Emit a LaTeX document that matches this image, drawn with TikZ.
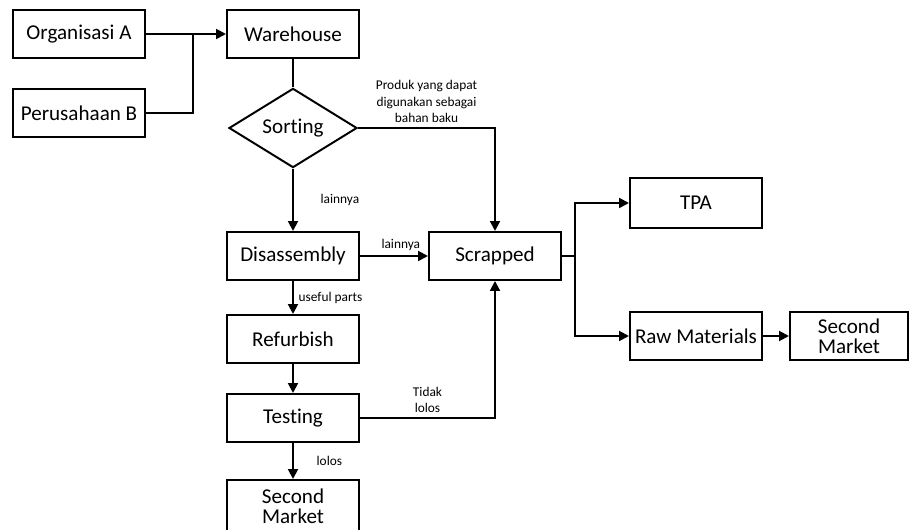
\documentclass[tikz,border=0pt]{standalone}
\usepackage{fontspec}
\setmainfont{Carlito}[Ligatures=NoCommon]
\usepackage{tikz}
\usetikzlibrary{shapes,shapes.geometric,arrows.meta,positioning}

\begin{document}
\begin{tikzpicture}[
        x=0.025cm, y=-0.025cm,
        box/.style={
            draw,
            line width=1.4pt,
            minimum width=3.3cm,
            minimum height=1.2cm,
            inner sep=1pt,
            align=center,
            font=\fontsize{15}{16}\selectfont
        },
        decision/.style={
            draw,
            diamond,
            line width=1.4pt,
            minimum width=3.2cm,
            minimum height=1.95cm,
            inner sep=0pt,
            font=\fontsize{15}{16}\selectfont
        },
        flow/.style={
            line width=1.4pt,
            -{Triangle[length=7pt,width=7pt]}
        },
        link/.style={
            line width=1.4pt
        },
        note/.style={
            font=\fontsize{9.5}{11.5}\selectfont,
            align=center
        }
    ]

                \useasboundingbox (0,0) rectangle (909,530);

                \node[box] (orgA) at (79,34) {Organisasi A};
                \node[box] (perusB) at (79,113) {Perusahaan B};
                \node[box] (warehouse) at (293,34) {Warehouse};
                \node[decision] (sorting) at (293,128) {Sorting};
                \node[box] (disassembly) at (293,256) {Disassembly};
                \node[box] (scrapped) at (495,256) {Scrapped};
                \node[box] (refurbish) at (293,339) {Refurbish};
                \node[box] (testing) at (293,418) {Testing};
                \node[box, minimum height=1.3cm] (marketA) at (293,506) {Second\\[-2pt]Market};
                \node[box, minimum height=1.25cm] (tpa) at (696,203) {TPA};
                \node[box] (rawMat) at (696,336) {Raw Materials};
                \node[box, minimum width=2.95cm] (marketB) at (849,336) {Second\\[-2pt]Market};

                \coordinate (merge) at (193,34);
                \coordinate (split) at (575,256);

                \draw[flow] (orgA.east) -- (warehouse.west);
                \draw[link] (perusB.east) -| (merge);
                \draw[link] (warehouse.south) -- (sorting.north);

                \draw[flow] (sorting.south) -- (disassembly.north)
                    node[note, midway, right=0.55cm] {lainnya};
                \draw[flow] (sorting.east) -| (scrapped.north)
                    node[note, pos=0.25, above] {Produk yang dapat\\digunakan sebagai\\bahan baku};
                \draw[flow] (disassembly.east) -- (scrapped.west)
                    node[note, pos=0.6, above] {lainnya};
                \draw[flow] (disassembly.south) -- (refurbish.north)
                    node[note, midway, right] {useful parts};
                \draw[flow] (refurbish.south) -- (testing.north);
                \draw[flow] (testing.east) -| (scrapped.south)
                    node[note, pos=0.25, above] {Tidak\\lolos};
                \draw[flow] (testing.south) -- (marketA.north)
                    node[note, midway, right=0.45cm] {lolos};

                \draw[link] (scrapped.east) -- (split);
                \draw[flow] (split) |- (tpa.west);
                \draw[flow] (split) |- (rawMat.west);
                \draw[flow] (rawMat.east) -- (marketB.west);

            \end{tikzpicture}
\end{document}
